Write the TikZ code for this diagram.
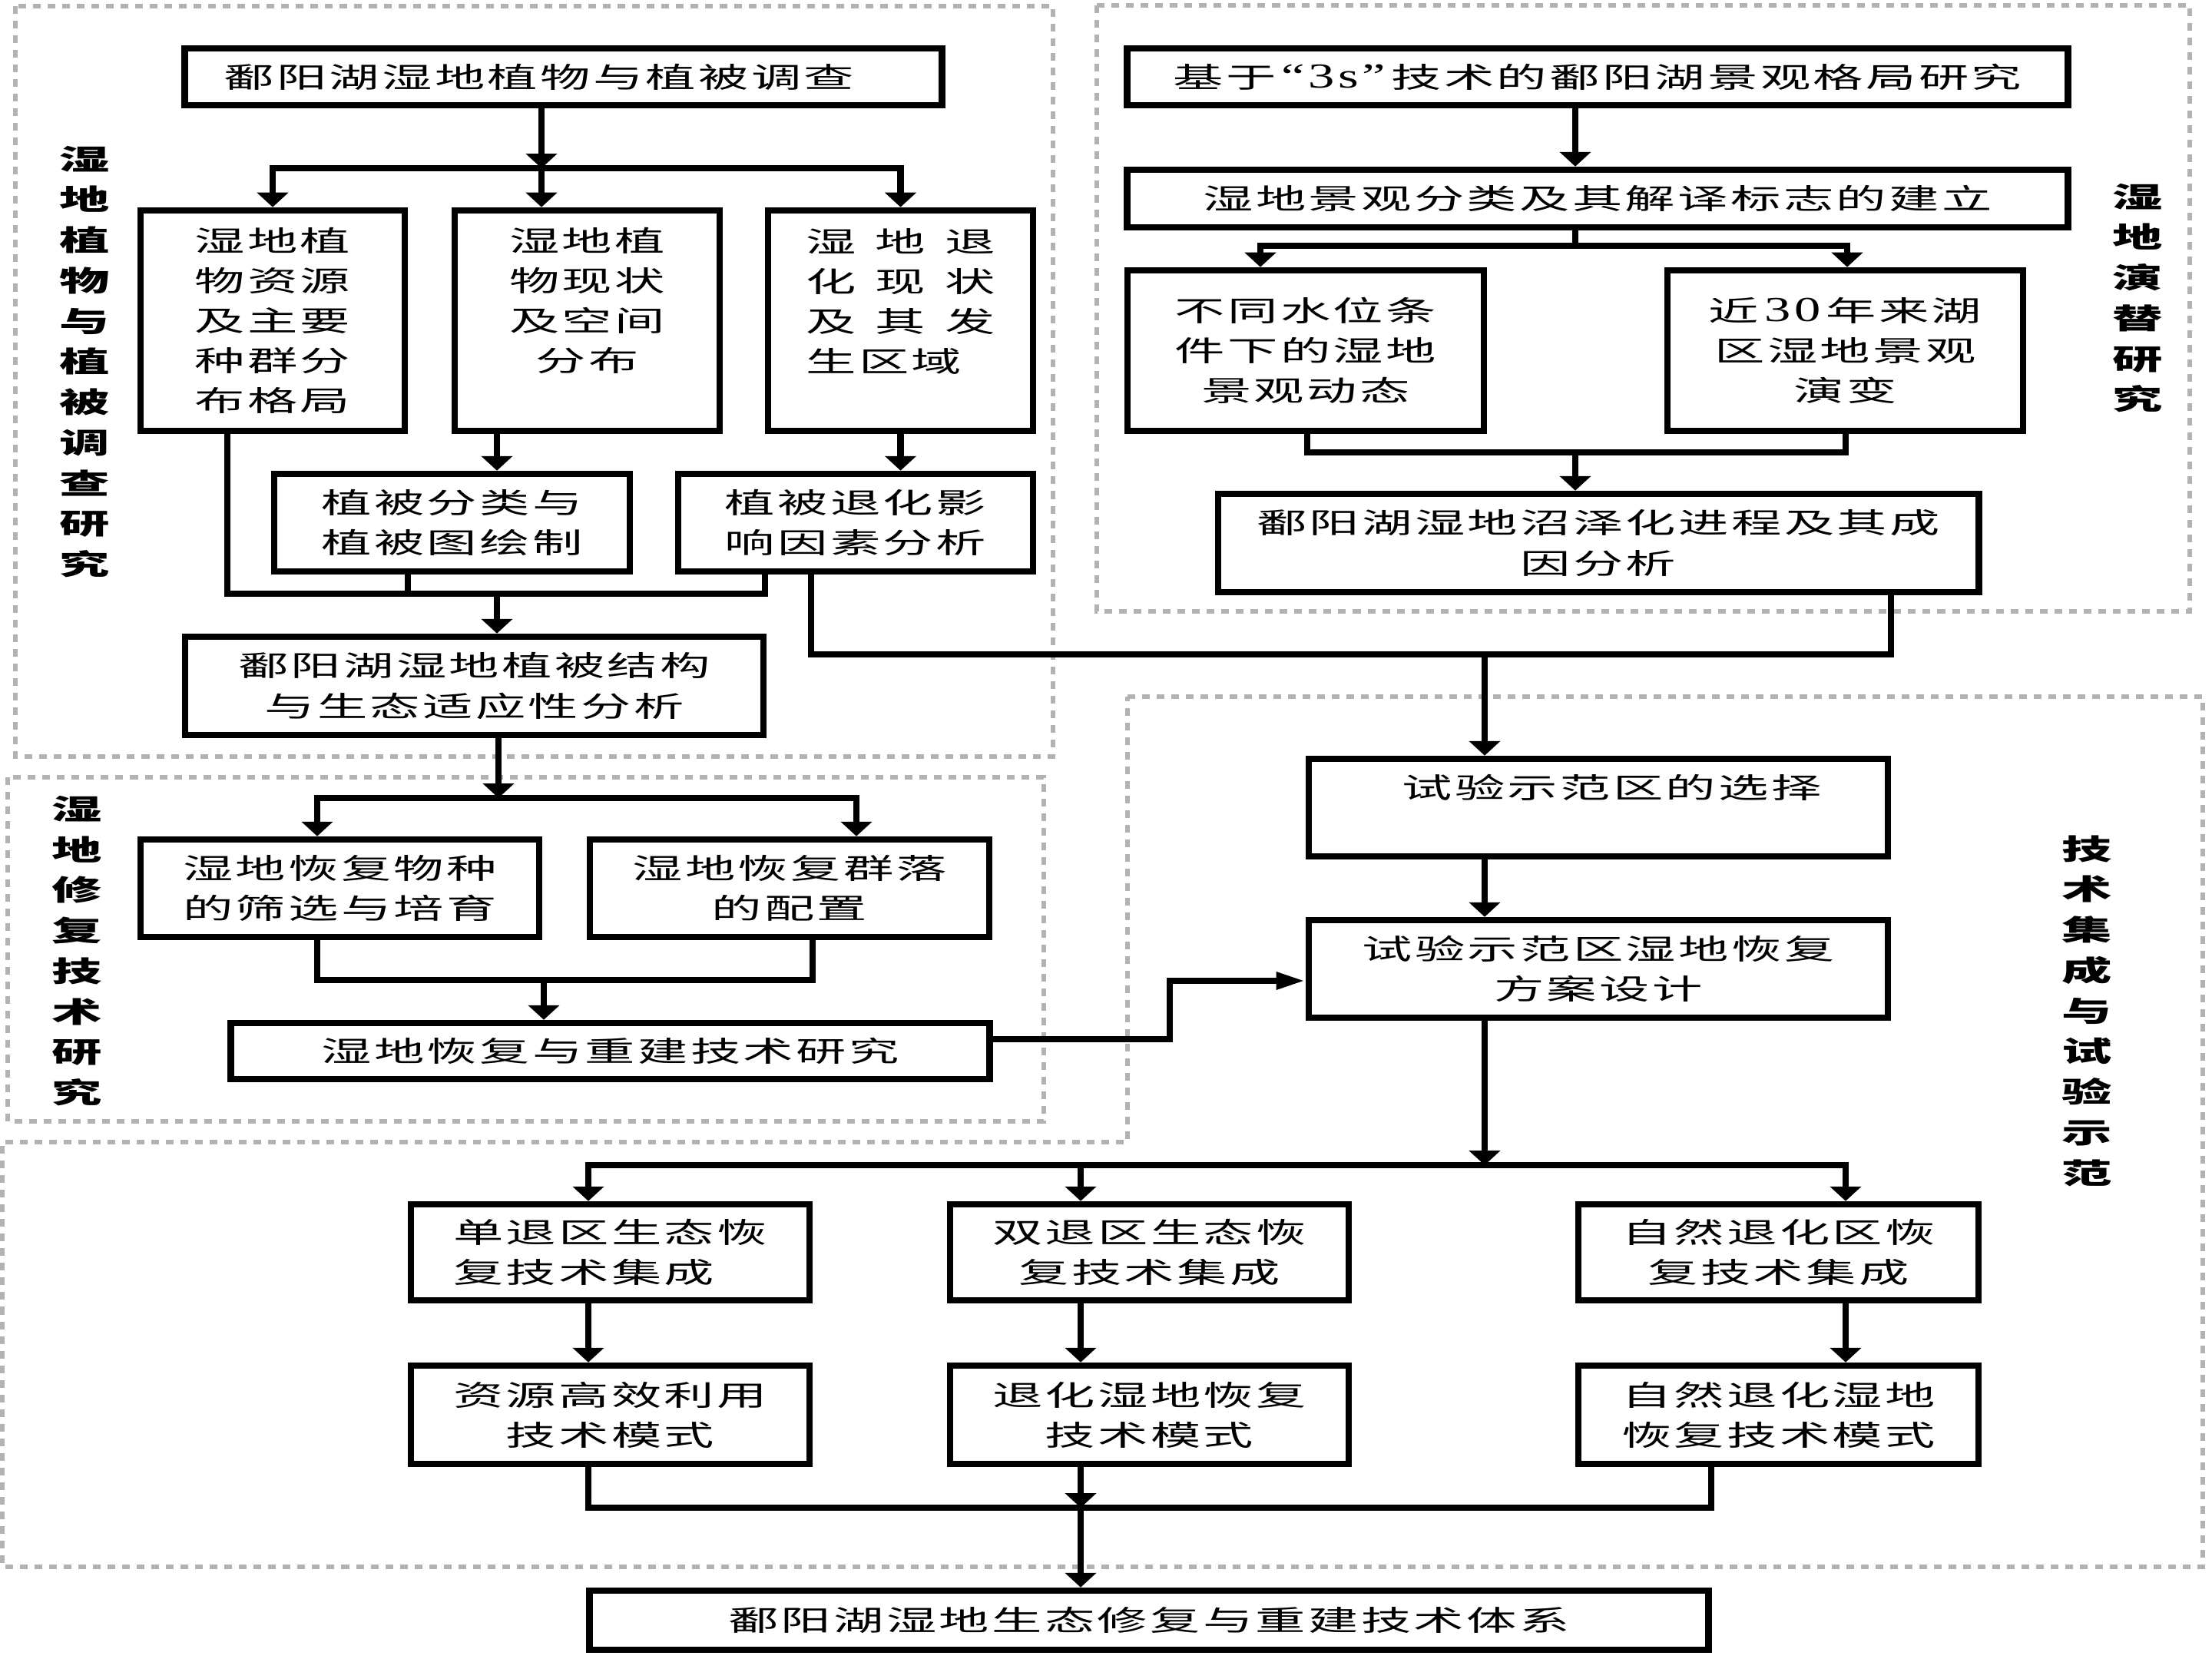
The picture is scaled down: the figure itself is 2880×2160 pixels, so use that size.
\documentclass[tikz,border=0pt]{standalone}
\usepackage{fontspec}
\newfontfamily\cjk[FakeStretch=1.77,LetterSpace=9]{Noto Sans CJK SC}
\newfontfamily\lat[FakeStretch=1.5,LetterSpace=10]{Liberation Serif}
\newcommand\latx[1]{{\lat\fontsize{13pt}{14.8pt}\selectfont #1}}
\usetikzlibrary{arrows.meta}
\begin{document}
\begin{tikzpicture}[x=0.01cm,y=-0.01cm,
  box/.style={draw,line width=2.4pt,inner sep=0pt,align=center,font=\cjk\fontsize{10.5pt}{14.8pt}\selectfont},
  lab/.style={inner sep=0pt,align=center,font=\cjk\bfseries\fontsize{10.5pt}{15pt}\selectfont},
  region/.style={draw=black!30,line width=1.7pt,dash pattern=on 2.85pt off 2.56pt},
  conn/.style={line width=2.4pt,line cap=rect},
  arr/.style={conn,-{Triangle[width=11.4pt,length=5.4pt]}},
  harr/.style={conn,-{Triangle[width=6pt,length=10.8pt]}},
]
\useasboundingbox (0,0) rectangle (2880,2160);
% regions
\draw[region] (20,8) rectangle (1371,985);
\draw[region] (1428,7) rectangle (2851,796);
\draw[region] (10,1012) rectangle (1359,1460);
\draw[region] (1468,907) -- (2868,907) -- (2868,2040) -- (3,2040) -- (3,1487) -- (1468,1487) -- cycle;
% region labels
\node[lab] (LR1) at (110,471) {湿\\地\\植\\物\\与\\植\\被\\调\\查\\研\\究};
\node[lab] (LR2) at (2783,388) {湿\\地\\演\\替\\研\\究};
\node[lab] (LR3) at (100,1238) {湿\\地\\修\\复\\技\\术\\研\\究};
\node[lab] (LR4) at (2717,1316) {技\\术\\集\\成\\与\\试\\验\\示\\范};
% boxes
\node[box,minimum width=9.85cm,minimum height=0.74cm] (A) at (733.5,100) {鄱阳湖湿地植物与植被调查\hspace*{18pt}};
\node[box,minimum width=3.44cm,minimum height=2.87cm] (B1) at (355,417.5) {湿地植\\物资源\\及主要\\种群分\\布格局};
\node[box,minimum width=3.45cm,minimum height=2.87cm] (B2) at (764.5,417.5) {湿地植\\物现状\\及空间\\分布\\\phantom{分}};
\node[box,align=left,minimum width=3.45cm,minimum height=2.87cm] (B3) at (1172.5,417.5) {\makebox[70pt][l]{湿\hfill 地\hfill 退}\\\makebox[70pt][l]{化\hfill 现\hfill 状}\\\makebox[70pt][l]{及\hfill 其\hfill 发}\\生区域\\\phantom{生}};
\node[box,minimum width=4.63cm,minimum height=1.27cm] (D1) at (588.5,680.5) {植被分类与\\植被图绘制};
\node[box,minimum width=4.62cm,minimum height=1.27cm] (D2) at (1114,680.5) {植被退化影\\响因素分析};
\node[box,minimum width=7.53cm,minimum height=1.28cm] (C) at (617.5,893) {鄱阳湖湿地植被结构\\与生态适应性分析};
\node[box,minimum width=12.24cm,minimum height=0.74cm] (E) at (2080,100) {基于\hspace{2pt}\latx{“3s”}\hspace{2pt}技术的鄱阳湖景观格局研究};
\node[box,minimum width=12.24cm,minimum height=0.75cm] (F) at (2080,258.5) {湿地景观分类及其解译标志的建立};
\node[box,minimum width=4.64cm,minimum height=2.09cm] (G1) at (1700,456.5) {不同水位条\\件下的湿地\\景观动态};
\node[box,minimum width=4.63cm,minimum height=2.09cm] (G2) at (2402.5,456.5) {近\hspace{2pt}\latx{30}\hspace{2pt}年来湖\\区湿地景观\\演变};
\node[box,minimum width=9.90cm,minimum height=1.28cm] (H) at (2081,707) {鄱阳湖湿地沼泽化进程及其成\\因分析};
\node[box,minimum width=7.54cm,minimum height=1.27cm] (I) at (2081,1051.5) {\hspace*{10pt}试验示范区的选择\\\phantom{试}};
\node[box,minimum width=7.54cm,minimum height=1.27cm] (J) at (2081,1261.5) {试验示范区湿地恢复\\方案设计};
\node[box,minimum width=5.19cm,minimum height=1.27cm] (P1) at (442.5,1156.5) {湿地恢复物种\\的筛选与培育};
\node[box,minimum width=5.20cm,minimum height=1.27cm] (P2) at (1028,1156.5) {湿地恢复群落\\的配置};
\node[box,minimum width=9.87cm,minimum height=0.73cm] (K) at (794.5,1368.5) {湿地恢复与重建技术研究};
\node[box,align=left,minimum width=5.19cm,minimum height=1.25cm] (L1) at (794.5,1630.5) {单退区生态恢\\复技术集成};
\node[box,minimum width=5.19cm,minimum height=1.25cm] (L2) at (1496.5,1630.5) {双退区生态恢\\复技术集成};
\node[box,minimum width=5.21cm,minimum height=1.25cm] (L3) at (2315.5,1630.5) {自然退化区恢\\复技术集成};
\node[box,minimum width=5.19cm,minimum height=1.28cm] (M1) at (794.5,1842) {资源高效利用\\技术模式};
\node[box,minimum width=5.19cm,minimum height=1.28cm] (M2) at (1496.5,1842) {退化湿地恢复\\技术模式};
\node[box,minimum width=5.21cm,minimum height=1.28cm] (M3) at (2315.5,1842) {自然退化湿地\\恢复技术模式};
\node[box,minimum width=14.56cm,minimum height=0.77cm] (N) at (1496,2109.5) {鄱阳湖湿地生态修复与重建技术体系};
% coordinates
\coordinate (j1) at (705,219);
\coordinate (c2) at (647,773);
\coordinate (b2) at (296,773);
\coordinate (b2r) at (996,773);
\coordinate (d1s) at (531,773);
\coordinate (e1) at (1056,852);
\coordinate (e2) at (2462,852);
\coordinate (e3) at (1933,852);
\coordinate (f0) at (2051,320);
\coordinate (f1) at (1641,320);
\coordinate (f2) at (2405,320);
\coordinate (g0) at (2051,589);
\coordinate (g1) at (1702,589);
\coordinate (g2) at (2403,589);
\coordinate (k1) at (1523,1353);
\coordinate (k2) at (1523,1277);
\coordinate (l0) at (1933,1517);
\coordinate (l1) at (766,1517);
\coordinate (l2) at (1407,1517);
\coordinate (l3) at (2403,1517);
\coordinate (m1) at (766,1963);
\coordinate (m2) at (1407,1963);
\coordinate (m3) at (2228,1963);
\coordinate (p0) at (649,1039);
\coordinate (p1) at (413,1039);
\coordinate (p2) at (1115,1039);
\coordinate (q0) at (708,1276);
\coordinate (q1) at (413,1276);
\coordinate (q2) at (1058,1276);
% connectors: top-left block
\draw[arr] (A.south -| j1) -- (j1);
\draw[conn] (B1.north |- j1) -- (B3.north |- j1);
\draw[arr] (B1.north |- j1) -- (B1.north);
\draw[arr] (j1) -- (j1 |- B2.north);
\draw[arr] (B3.north |- j1) -- (B3.north);
\draw[arr] (B2.south -| c2) -- (D1.north -| c2);
\draw[arr] (B3.south) -- (D2.north -| B3.south);
\draw[conn] (B1.south -| b2) -- (b2) -- (b2r) -- (D2.south -| b2r);
\draw[conn] (D1.south -| d1s) -- (d1s);
\draw[arr] (c2) -- (C.north -| c2);
% D2 / H to trial area
\draw[conn] (D2.south -| e1) -- (e1) -- (e2) -- (H.south -| e2);
\draw[arr] (e3) -- (I.north -| e3);
% top-right block
\draw[arr] (E.south -| f0) -- (F.north -| f0);
\draw[conn] (F.south -| f0) -- (f0);
\draw[conn] (f1) -- (f2);
\draw[arr] (f1) -- (G1.north -| f1);
\draw[arr] (f2) -- (G2.north -| f2);
\draw[conn] (G1.south -| g1) -- (g1) -- (g2) -- (G2.south -| g2);
\draw[arr] (g0) -- (H.north -| g0);
% restoration block
\draw[arr] (C.south -| p0) -- (p0);
\draw[conn] (p1) -- (p2);
\draw[arr] (p1) -- (P1.north -| p1);
\draw[arr] (p2) -- (P2.north -| p2);
\draw[conn] (P1.south -| q1) -- (q1) -- (q2) -- (P2.south -| q2);
\draw[arr] (q0) -- (K.north -| q0);
\draw[harr] (K.east |- k1) -- (k1) -- (k2) -- (J.west |- k2);
% trial block
\draw[arr] (I.south -| e3) -- (J.north -| e3);
\draw[arr] (J.south -| l0) -- (l0);
\draw[conn] (l1) -- (l3);
\draw[arr] (l1) -- (L1.north -| l1);
\draw[arr] (l2) -- (L2.north -| l2);
\draw[arr] (l3) -- (L3.north -| l3);
\draw[arr] (L1.south -| l1) -- (M1.north -| l1);
\draw[arr] (L2.south -| l2) -- (M2.north -| l2);
\draw[arr] (L3.south -| l3) -- (M3.north -| l3);
\draw[conn] (M1.south -| m1) -- (m1) -- (m3) -- (M3.south -| m3);
\draw[arr] (M2.south -| m2) -- (m2);
\draw[arr] (m2) -- (N.north -| m2);
\end{tikzpicture}
\end{document}
